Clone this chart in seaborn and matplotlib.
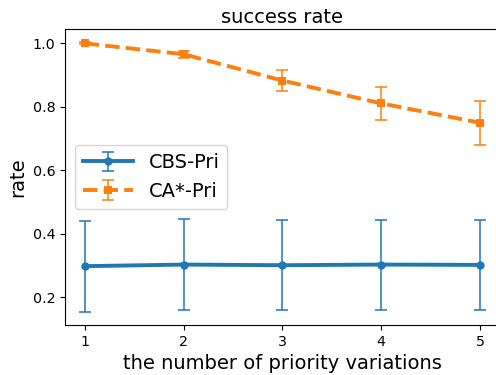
import numpy as np
import pandas as pd
import matplotlib
matplotlib.use("Agg")
import matplotlib.pyplot as plt
import seaborn as sns

variations = [1, 2, 3, 4, 5]

cbs_mean = [0.298, 0.303, 0.301, 0.303, 0.302]
cbs_err = [0.143, 0.143, 0.142, 0.142, 0.142]

ca_mean = [1.000, 0.966, 0.883, 0.811, 0.750]
ca_err = [0.003, 0.011, 0.034, 0.053, 0.070]

labels = ["CBS-Pri", "CA*-Pri"]
colors = ["#1f77b4", "#ff7f0e"]

df = pd.DataFrame({
    "variations": variations * 2,
    "rate": cbs_mean + ca_mean,
    "method": [labels[0]] * 5 + [labels[1]] * 5,
})

fig = plt.figure(figsize=(4.96, 3.75), dpi=100)
ax = fig.add_axes([65 / 496, 50 / 375, (499.75 - 65) / 496, (325 - 29) / 375])

sns.lineplot(
    data=df,
    x="variations",
    y="rate",
    hue="method",
    style="method",
    palette=colors,
    markers={labels[0]: "o", labels[1]: "s"},
    dashes={labels[0]: "", labels[1]: (3.7, 1.6)},
    linewidth=2.8,
    markersize=6,
    markeredgewidth=0,
    legend=False,
    ax=ax,
)

# error bars drawn separately, legend pairs them with the seaborn lines
handles = []
for i, (m, e) in enumerate([(cbs_mean, cbs_err), (ca_mean, ca_err)]):
    eb = ax.errorbar(
        variations, m, yerr=e,
        fmt="none",
        ecolor=colors[i],
        elinewidth=1.1,
        capsize=4.5,
        capthick=1.1,
    )
    handles.append((ax.lines[i], eb))

ax.legend(
    handles,
    labels,
    loc="center left",
    fontsize=14,
    handlelength=2.6,
)

ax.set_xticks(variations)
ax.tick_params(labelsize=10.3)
ax.set_xlabel("the number of priority variations", fontsize=14, labelpad=4)
ax.set_ylabel("rate", fontsize=14)
ax.set_title("success rate", fontsize=14, pad=4)

fig.savefig("out.png", dpi=100)
